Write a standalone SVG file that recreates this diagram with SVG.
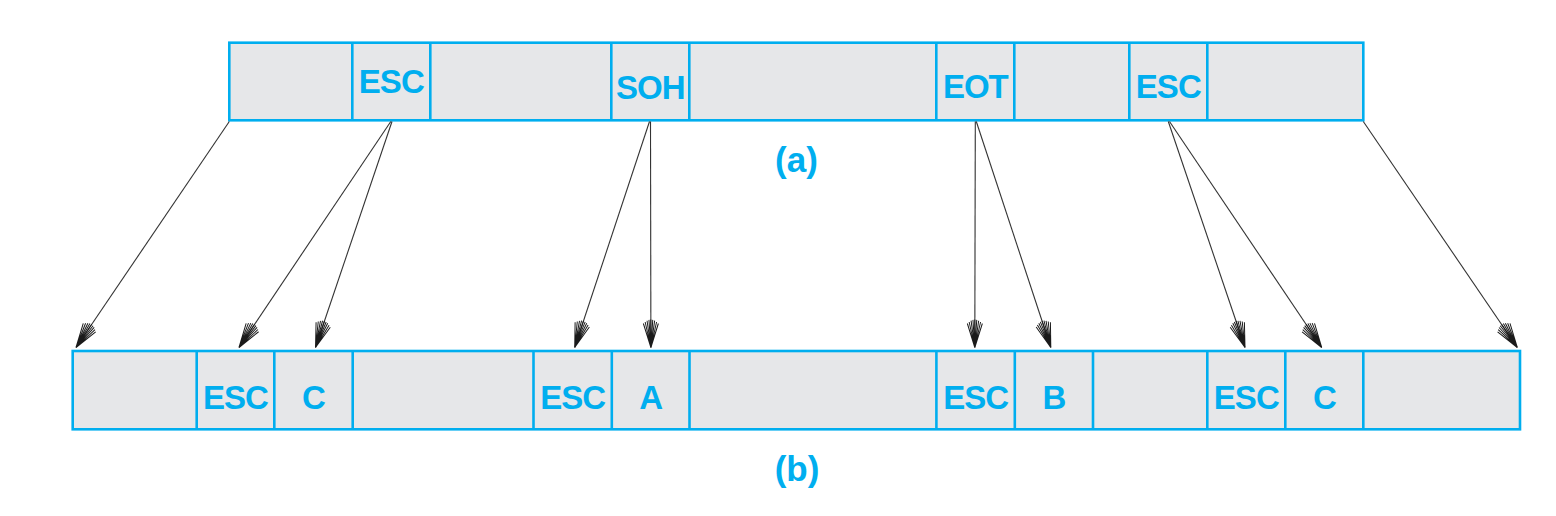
<svg xmlns="http://www.w3.org/2000/svg" width="1556" height="516" viewBox="0 0 1556 516">
<style>
.bar{fill:#E6E7E9;stroke:#00AEEF;stroke-width:2.6}
.div{stroke:#00AEEF;stroke-width:2.6}
.lbl{font-family:"Liberation Sans",Arial,sans-serif;font-weight:bold;font-size:33px;fill:#00AEEF;text-anchor:middle;letter-spacing:-1px}
.cap{font-family:"Liberation Sans",Arial,sans-serif;font-weight:bold;font-size:35px;fill:#00AEEF;text-anchor:middle}
.arr{stroke:#333;stroke-width:1.1;fill:none;marker-end:url(#fan)}
</style>
<defs>
<marker id="fan" markerUnits="userSpaceOnUse" markerWidth="40" markerHeight="30" viewBox="-30 -15 32 30" refX="0" refY="0" orient="auto" overflow="visible">
<path d="M0,0L-24,-7.5M0,0L-25.5,-5.7M0,0L-26.8,-3.8M0,0L-27.6,-1.9M0,0L-28,0M0,0L-27.6,1.9M0,0L-26.8,3.8M0,0L-25.5,5.7M0,0L-24,7.5" stroke="#1a1a1a" stroke-width="1" fill="none"/>
</marker>
</defs>
<g id="frame-a">
<rect class="bar" x="229.3" y="42.7" width="1134" height="77.6"/>
<line class="div" x1="352.3" y1="42.7" x2="352.3" y2="120.3"/>
<line class="div" x1="430.3" y1="42.7" x2="430.3" y2="120.3"/>
<line class="div" x1="611.3" y1="42.7" x2="611.3" y2="120.3"/>
<line class="div" x1="689.3" y1="42.7" x2="689.3" y2="120.3"/>
<line class="div" x1="936.3" y1="42.7" x2="936.3" y2="120.3"/>
<line class="div" x1="1014.3" y1="42.7" x2="1014.3" y2="120.3"/>
<line class="div" x1="1129.3" y1="42.7" x2="1129.3" y2="120.3"/>
<line class="div" x1="1207.3" y1="42.7" x2="1207.3" y2="120.3"/>
<text class="lbl" x="391.3" y="93">ESC</text>
<text class="lbl" x="650.3" y="98.5">SOH</text>
<text class="lbl" x="975.3" y="98">EOT</text>
<text class="lbl" x="1168.3" y="98">ESC</text>
</g>
<g id="frame-b">
<rect class="bar" x="72.7" y="351" width="1447.3" height="78.3"/>
<line class="div" x1="196.7" y1="351" x2="196.7" y2="429.3"/>
<line class="div" x1="274.3" y1="351" x2="274.3" y2="429.3"/>
<line class="div" x1="352.7" y1="351" x2="352.7" y2="429.3"/>
<line class="div" x1="533.5" y1="351" x2="533.5" y2="429.3"/>
<line class="div" x1="611.8" y1="351" x2="611.8" y2="429.3"/>
<line class="div" x1="689.5" y1="351" x2="689.5" y2="429.3"/>
<line class="div" x1="936.4" y1="351" x2="936.4" y2="429.3"/>
<line class="div" x1="1014.8" y1="351" x2="1014.8" y2="429.3"/>
<line class="div" x1="1093" y1="351" x2="1093" y2="429.3"/>
<line class="div" x1="1207.3" y1="351" x2="1207.3" y2="429.3"/>
<line class="div" x1="1285.3" y1="351" x2="1285.3" y2="429.3"/>
<line class="div" x1="1363.3" y1="351" x2="1363.3" y2="429.3"/>
<text class="lbl" x="235.5" y="409">ESC</text>
<text class="lbl" x="313.5" y="409">C</text>
<text class="lbl" x="572.7" y="409">ESC</text>
<text class="lbl" x="650.7" y="409">A</text>
<text class="lbl" x="975.6" y="409">ESC</text>
<text class="lbl" x="1053.9" y="409">B</text>
<text class="lbl" x="1246.3" y="409">ESC</text>
<text class="lbl" x="1324.3" y="409">C</text>
</g>
<g id="captions">
<text class="cap" x="796.5" y="172">(a)</text>
<text class="cap" x="797" y="481">(b)</text>
</g>
<g id="connectors">
<line class="arr" x1="229.3" y1="121.5" x2="76" y2="347.5"/>
<line class="arr" x1="390.8" y1="121.5" x2="239" y2="347.5"/>
<line class="arr" x1="392" y1="121.5" x2="315.5" y2="347.5"/>
<line class="arr" x1="649.5" y1="121.5" x2="574.7" y2="347.5"/>
<line class="arr" x1="650.5" y1="121.5" x2="650.9" y2="347.5"/>
<line class="arr" x1="975.3" y1="121.5" x2="974.8" y2="347.5"/>
<line class="arr" x1="976.3" y1="121.5" x2="1050.8" y2="347.5"/>
<line class="arr" x1="1168.3" y1="121.5" x2="1245" y2="347.5"/>
<line class="arr" x1="1169.5" y1="121.5" x2="1321.7" y2="347.5"/>
<line class="arr" x1="1363.3" y1="121.5" x2="1517.3" y2="347.5"/>
</g>
</svg>
